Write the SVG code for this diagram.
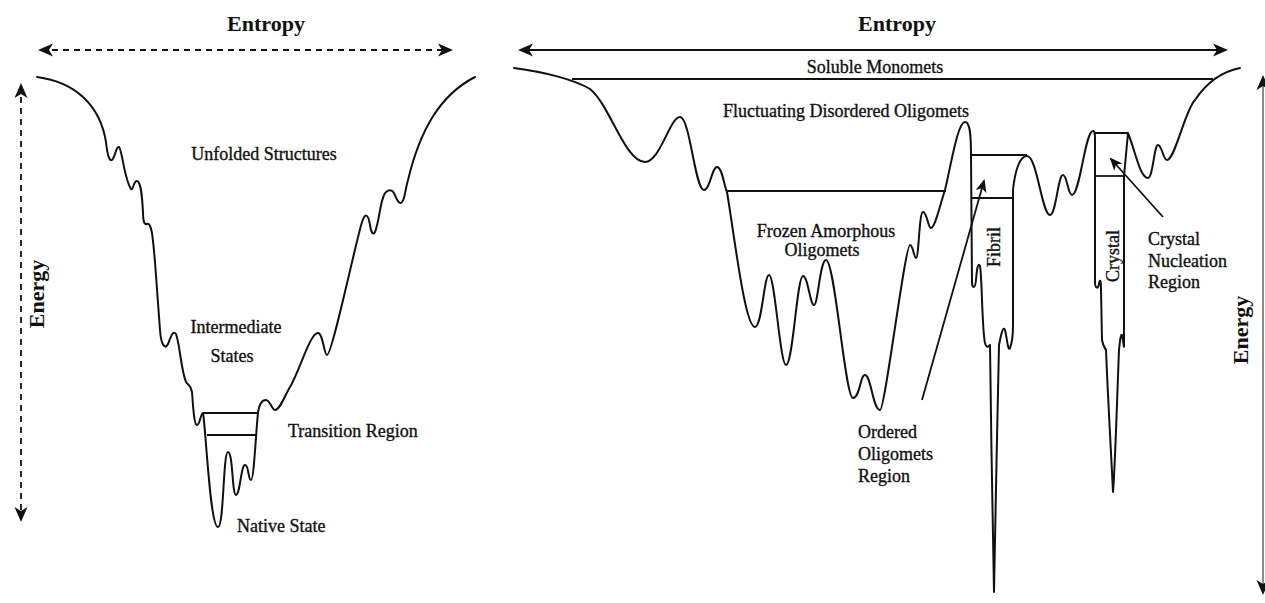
<svg xmlns="http://www.w3.org/2000/svg" width="1265" height="603" viewBox="0 0 1265 603">
<style>
.c{fill:none;stroke:#111;stroke-width:2;stroke-linejoin:round;stroke-linecap:round}
.h{fill:none;stroke:#111;stroke-width:1.8}
.d{fill:none;stroke:#111;stroke-width:1.8;stroke-dasharray:6 5}
.ax{fill:none;stroke:#111;stroke-width:2}
.t{font-family:"Liberation Serif","Times New Roman",serif;font-size:18px;fill:#111;stroke:#111;stroke-width:0.35}
.b{font-family:"Liberation Serif","Times New Roman",serif;font-size:22px;font-weight:bold;fill:#111}
</style>
<defs>
<marker id="ah" viewBox="-16 -8 17 16" refX="-3" refY="0" markerWidth="17" markerHeight="16" markerUnits="userSpaceOnUse" orient="auto-start-reverse">
<path d="M0,0 L-15,-6.5 L-11,0 L-15,6.5 Z" fill="#111"/>
</marker>
<marker id="sh" viewBox="-14 -7 15 14" refX="-2" refY="0" markerWidth="15" markerHeight="14" markerUnits="userSpaceOnUse" orient="auto">
<path d="M0,0 L-13,-5.5 L-9.5,0 L-13,5.5 Z" fill="#111"/>
</marker>
</defs>
<rect width="1265" height="603" fill="#fff"/>

<g id="left-axes">
<text class="b" x="266" y="31" text-anchor="middle">Entropy</text>
<line class="d" x1="41" y1="50" x2="450" y2="50" marker-start="url(#ah)" marker-end="url(#ah)"/>
<line class="d" x1="21" y1="86" x2="21" y2="519" marker-start="url(#ah)" marker-end="url(#ah)"/>
<text class="b" transform="translate(44,294) rotate(-90)" text-anchor="middle">Energy</text>
</g>

<g id="left-funnel">
<path class="c" d="M37,77 C75,82 100,105 106,142 C107,152 109,162 112,160 C115,158 116,146 119,147 C122,149 124,178 131,189 C133,191 134,180 137,181 C141,182 142,195 143,212 C143,220 144,225 147,224 C152,222 153,240 155,262 L160,330 C161,345 165,350 168,344 C171,336 173,330 176,334 C180,345 181,370 186,382 C189,386 191,385 192,392 C193,405 194,425 197,425 C200,425 200,415 203,413 C206,430 210,527 218,527 C224,527 223,452 228,452 C233,452 232,495 236,495 C240,495 241,465 245,465 C249,465 248,480 251,480 C254,480 256,430 258,413 C259,405 261,400 266,400 C270,400 272,410 275,410 C280,410 285,395 290,387 C300,370 310,333 318,333 C323,333 324,355 327,355 C332,355 355,245 362,222 C365,213 368,213 370,225 C371,232 373,236 375,232 C379,222 380,205 383,198 C385,190 391,188 394,193 C397,200 399,205 402,202 C405,199 405,190 408,180 C420,130 440,95 475,77"/>
<line class="h" x1="203" y1="413" x2="258" y2="413"/>
<line class="h" x1="207" y1="435" x2="256" y2="435"/>
</g>

<g id="left-labels">
<text class="t" x="264" y="160" text-anchor="middle">Unfolded Structures</text>
<text class="t" x="236" y="333" text-anchor="middle">Intermediate</text>
<text class="t" x="232" y="362" text-anchor="middle">States</text>
<text class="t" x="288" y="437">Transition Region</text>
<text class="t" x="237" y="532">Native State</text>
</g>

<g id="right-axes">
<text class="b" x="897" y="31" text-anchor="middle">Entropy</text>
<line class="ax" x1="521" y1="50" x2="1225" y2="50" marker-start="url(#ah)" marker-end="url(#ah)"/>
<line x1="1263" y1="78" x2="1263" y2="592" stroke="#666" stroke-width="1.5" marker-start="url(#ah)" marker-end="url(#ah)"/>
<text class="b" transform="translate(1248,330) rotate(-90)" text-anchor="middle">Energy</text>
</g>

<g id="right-landscape">
<path class="c" d="M514,68 C545,72 575,80 590,89 C610,105 625,162 645,162 C660,162 670,117 680,117 C690,117 695,190 704,190 C710,190 712,167 717,167 C722,167 724,185 727,192 C735,240 745,327 755,327 C762,327 764,275 769,275 C775,275 780,365 786,365 C793,365 797,276 803,276 C808,276 810,305 814,305 C818,305 820,260 826,260 C835,260 845,398 853,398 C860,398 860,375 865,375 C871,375 873,410 880,410 C885,410 905,245 910,245 C913,245 914,258 916,258 C919,258 919,212 923,212 C927,212 928,228 931,228 C935,228 940,205 945,190 C952,160 958,122 965,122 C970,122 971,135 971,155 L972,282 C972,288 975,290 976,280 C977,268 978,262 980,266 C982,275 982,330 985,343 C987,350 989,345 990,345 C991,420 993,560 994,592 C995,560 997,420 999,345 C1001,335 1003,325 1005,330 C1007,338 1008,352 1010,348 C1012,343 1013,335 1013,325 L1013,190 C1015,170 1020,156 1027,156 C1037,156 1042,215 1050,215 C1056,215 1058,175 1063,175 C1067,175 1068,195 1072,195 C1080,195 1085,131 1093,131 C1095,131 1095,135 1095,140 L1095,282 C1095,288 1098,290 1099,284 C1100,278 1101,280 1101,290 L1102,340 C1103,346 1105,348 1106,350 C1108,400 1112,470 1113,492 C1115,470 1117,400 1119,350 C1120,340 1121,333 1122,335 C1123,338 1124,350 1124,346 L1124,176 L1128,133 C1135,150 1140,178 1148,178 C1153,178 1154,145 1158,145 C1162,145 1163,160 1167,160 C1175,160 1185,110 1195,100 C1205,85 1220,72 1240,68"/>
<line class="h" x1="572" y1="79" x2="1213" y2="79"/>
<line class="h" x1="727" y1="191" x2="946" y2="191"/>
<line class="h" x1="971" y1="155" x2="1027" y2="155"/>
<line class="h" x1="972" y1="198" x2="1013" y2="198"/>
<line class="h" x1="1095" y1="133" x2="1128" y2="133"/>
<line class="h" x1="1095" y1="176" x2="1124" y2="176"/>
</g>

<g id="connectors">
<line class="h" x1="922" y1="400" x2="984" y2="181" marker-end="url(#sh)"/>
<line class="h" x1="1163" y1="217" x2="1111" y2="159" marker-end="url(#sh)"/>
</g>

<g id="right-labels">
<text class="t" x="875" y="73" text-anchor="middle">Soluble Monomets</text>
<text class="t" x="846" y="117" text-anchor="middle">Fluctuating Disordered Oligomets</text>
<text class="t" x="826" y="237" text-anchor="middle">Frozen Amorphous</text>
<text class="t" x="822" y="256" text-anchor="middle">Oligomets</text>
<text class="t" transform="translate(1000,247) rotate(-90)" text-anchor="middle">Fibril</text>
<text class="t" transform="translate(1119,256) rotate(-90)" text-anchor="middle">Crystal</text>
<text class="t" x="1148" y="245">Crystal</text>
<text class="t" x="1148" y="267">Nucleation</text>
<text class="t" x="1148" y="288">Region</text>
<text class="t" x="858" y="438">Ordered</text>
<text class="t" x="858" y="460">Oligomets</text>
<text class="t" x="858" y="482">Region</text>
</g>
</svg>
